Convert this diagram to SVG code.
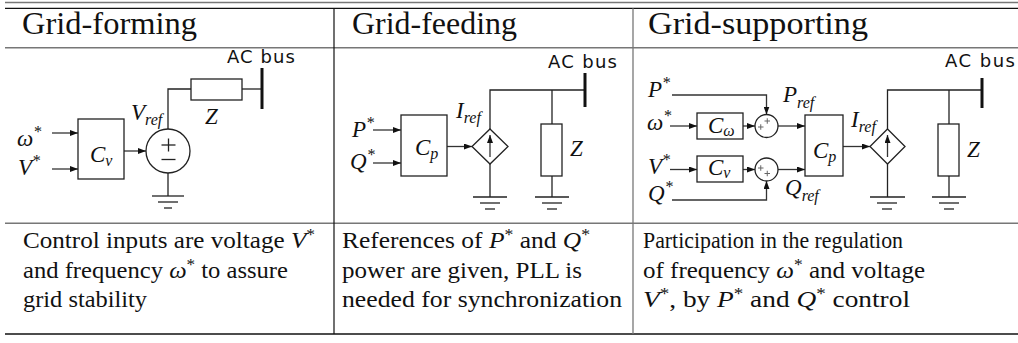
<svg xmlns="http://www.w3.org/2000/svg" width="1018" height="343" viewBox="0 0 1018 343">
<defs>
<marker id="ah" markerUnits="userSpaceOnUse" markerWidth="8" markerHeight="6" refX="8" refY="3" orient="auto"><path d="M0,0 L8,3 L0,6 z" fill="#111"/></marker>
<style>
.bg{fill:#fff}
.rg{stroke:#777;stroke-width:1.6;fill:none}
.rb{stroke:#111;stroke-width:1.2;fill:none}
.w{stroke:#222;stroke-width:1.3;fill:none}
.bx{stroke:#222;stroke-width:1.3;fill:#fff}
.bus{stroke:#111;stroke-width:3}
.ar{stroke:#333;stroke-width:1.3;fill:none;marker-end:url(#ah)}
.hd{font-family:'Liberation Serif','Times New Roman',serif;font-size:31px;fill:#111}
.bd{font-family:'Liberation Serif','Times New Roman',serif;font-size:23px;fill:#111}
.it{font-style:italic}
.ac{font-family:"DejaVu Sans","Liberation Sans",sans-serif;font-size:18px;fill:#111}
.m{font-family:'Liberation Serif','Times New Roman',serif;font-style:italic;font-size:23px;fill:#111}
.s{font-size:16px}
.pl{stroke:#666;stroke-width:1}
</style>
</defs>
<rect class="bg" x="0" y="0" width="1018" height="343"/>
<g id="table">
<line class="rg" x1="5" y1="2.5" x2="1018" y2="2.5"/>
<line class="rb" x1="5" y1="8.3" x2="1018" y2="8.3"/>
<line class="rg" x1="5" y1="47.7" x2="1018" y2="47.7"/>
<line class="rg" x1="5" y1="223.3" x2="1018" y2="223.3"/>
<line class="rb" x1="5" y1="334" x2="1018" y2="334" style="stroke-width:1.5"/>
<line class="rb" x1="334" y1="8.3" x2="334" y2="334"/>
<line class="rg" x1="633" y1="8.3" x2="633" y2="334" style="stroke-width:1.3"/>
<text class="hd" x="22" y="34" textLength="175" lengthAdjust="spacingAndGlyphs">Grid-forming</text>
<text class="hd" x="352" y="34" textLength="165" lengthAdjust="spacingAndGlyphs">Grid-feeding</text>
<text class="hd" x="648" y="34" textLength="220" lengthAdjust="spacingAndGlyphs">Grid-supporting</text>
<text class="bd" x="23" y="248" textLength="292" lengthAdjust="spacingAndGlyphs">Control inputs are voltage <tspan class="it">V</tspan><tspan class="s" dy="-8">*</tspan></text>
<text class="bd" x="23" y="278" textLength="265" lengthAdjust="spacingAndGlyphs">and frequency <tspan class="it">ω</tspan><tspan class="s" dy="-8">*</tspan><tspan dy="8"> to assure</tspan></text>
<text class="bd" x="23" y="307" textLength="124" lengthAdjust="spacingAndGlyphs">grid stability</text>
<text class="bd" x="342" y="248" textLength="248" lengthAdjust="spacingAndGlyphs">References of <tspan class="it">P</tspan><tspan class="s" dy="-8">*</tspan><tspan dy="8"> and </tspan><tspan class="it">Q</tspan><tspan class="s" dy="-8">*</tspan></text>
<text class="bd" x="342" y="278" textLength="240" lengthAdjust="spacingAndGlyphs">power are given, PLL is</text>
<text class="bd" x="342" y="307" textLength="280" lengthAdjust="spacingAndGlyphs">needed for synchronization</text>
<text class="bd" x="643" y="248" textLength="260" lengthAdjust="spacingAndGlyphs">Participation in the regulation</text>
<text class="bd" x="643" y="278" textLength="282" lengthAdjust="spacingAndGlyphs">of frequency <tspan class="it">ω</tspan><tspan class="s" dy="-8">*</tspan><tspan dy="8"> and voltage</tspan></text>
<text class="bd" x="643" y="307" textLength="267" lengthAdjust="spacingAndGlyphs"><tspan class="it">V</tspan><tspan class="s" dy="-8">*</tspan><tspan dy="8">, by </tspan><tspan class="it">P</tspan><tspan class="s" dy="-8">*</tspan><tspan dy="8"> and </tspan><tspan class="it">Q</tspan><tspan class="s" dy="-8">*</tspan><tspan dy="8"> control</tspan></text>
</g>
<g id="connectors">
<polyline class="w" points="168,129 168,89 191,89"/>
<line class="w" x1="242" y1="89" x2="262" y2="89"/>
<line class="w" x1="168" y1="173" x2="168" y2="196"/>
<line class="ar" x1="52" y1="133" x2="78" y2="133"/>
<line class="ar" x1="52" y1="169" x2="78" y2="169"/>
<line class="ar" x1="124" y1="151" x2="146" y2="151"/>
<polyline class="w" points="490,129 490,90 585,90"/>
<line class="w" x1="552" y1="90" x2="552" y2="124"/>
<line class="w" x1="490" y1="164" x2="490" y2="197"/>
<line class="w" x1="552" y1="176" x2="552" y2="197"/>
<line class="ar" x1="373" y1="130" x2="401" y2="130"/>
<line class="ar" x1="373" y1="163" x2="401" y2="163"/>
<line class="ar" x1="447" y1="146.5" x2="472" y2="146.5"/>
<polyline class="w" points="887.5,129 887.5,90 982,90"/>
<line class="w" x1="949" y1="90" x2="949" y2="124"/>
<line class="w" x1="887.5" y1="164" x2="887.5" y2="197"/>
<line class="w" x1="949" y1="176" x2="949" y2="197"/>
<line class="ar" x1="670" y1="126" x2="697" y2="126"/>
<line class="ar" x1="743" y1="126" x2="755" y2="126"/>
<line class="ar" x1="778" y1="126" x2="805" y2="126"/>
<line class="ar" x1="670" y1="169.5" x2="697" y2="169.5"/>
<line class="ar" x1="743" y1="169.5" x2="755" y2="169.5"/>
<line class="ar" x1="778" y1="169.5" x2="805" y2="169.5"/>
<polyline class="ar" points="672,95 766.5,95 766.5,114.5"/>
<polyline class="ar" points="672,200 766.5,200 766.5,181"/>
<line class="ar" x1="843" y1="146.5" x2="870" y2="146.5"/>
</g>
<g id="gf-bus"><line class="bus" x1="262" y1="68" x2="262" y2="109"/><text class="ac" x="227" y="63" textLength="68">AC bus</text></g>
<g id="gf-z"><rect class="bx" x="191" y="79" width="51" height="21"/><text class="m" x="205" y="124">Z</text></g>
<g id="gf-source"><circle class="bx" cx="168" cy="151" r="22"/>
<line class="w" x1="161.5" y1="145" x2="175.5" y2="145"/><line class="w" x1="168.5" y1="138.5" x2="168.5" y2="151.5"/><line class="w" x1="161.5" y1="159.5" x2="175.5" y2="159.5"/>
<text class="m" x="131" y="120">V<tspan class="s" dy="5">ref</tspan></text></g>
<g id="gf-ground"><line class="w" x1="152" y1="196" x2="184" y2="196"/><line class="w" x1="158" y1="202" x2="178" y2="202"/><line class="w" x1="164" y1="208" x2="172" y2="208"/></g>
<g id="gf-cv"><rect class="bx" x="78" y="119" width="46" height="60"/><text class="m" x="90" y="162">C<tspan class="s" dy="4">v</tspan></text></g>
<g id="gf-inputs"><text class="m" x="17" y="146">ω<tspan class="s" dy="-9">*</tspan></text><text class="m" x="18" y="175">V<tspan class="s" dy="-9">*</tspan></text></g>

<g id="gd-bus"><line class="bus" x1="585" y1="73" x2="585" y2="107"/><text class="ac" x="548" y="68" textLength="69">AC bus</text></g>
<g id="gd-source"><polygon class="bx" points="490,129 508,146.5 490,164 472,146.5"/><line class="ar" x1="490" y1="157" x2="490" y2="135"/>
<text class="m" x="456" y="118">I<tspan class="s" dy="5">ref</tspan></text></g>
<g id="gd-z"><rect class="bx" x="541" y="124" width="21" height="52"/><text class="m" x="570" y="156">Z</text></g>
<g id="gd-ground1"><line class="w" x1="473" y1="197" x2="507" y2="197"/><line class="w" x1="480" y1="203" x2="500" y2="203"/><line class="w" x1="485" y1="209" x2="495" y2="209"/></g>
<g id="gd-ground2"><line class="w" x1="535" y1="197" x2="569" y2="197"/><line class="w" x1="542" y1="203" x2="562" y2="203"/><line class="w" x1="547" y1="209" x2="557" y2="209"/></g>
<g id="gd-cp"><rect class="bx" x="401" y="115" width="46" height="61"/><text class="m" x="415" y="155">C<tspan class="s" dy="4">p</tspan></text></g>
<g id="gd-inputs"><text class="m" x="352" y="137">P<tspan class="s" dy="-9">*</tspan></text><text class="m" x="350" y="169">Q<tspan class="s" dy="-9">*</tspan></text></g>

<g id="gs-bus"><line class="bus" x1="982" y1="78" x2="982" y2="108"/><text class="ac" x="945" y="67" textLength="70">AC bus</text></g>
<g id="gs-source"><polygon class="bx" points="887.5,129 905,146.5 887.5,164 870,146.5"/><line class="ar" x1="887.5" y1="157" x2="887.5" y2="135"/>
<text class="m" x="851" y="127">I<tspan class="s" dy="5">ref</tspan></text></g>
<g id="gs-z"><rect class="bx" x="938" y="124" width="21" height="52"/><text class="m" x="967" y="157">Z</text></g>
<g id="gs-ground1"><line class="w" x1="870" y1="197" x2="905" y2="197"/><line class="w" x1="877" y1="203" x2="897" y2="203"/><line class="w" x1="882" y1="209" x2="892" y2="209"/></g>
<g id="gs-ground2"><line class="w" x1="932" y1="197" x2="966" y2="197"/><line class="w" x1="939" y1="203" x2="959" y2="203"/><line class="w" x1="944" y1="209" x2="954" y2="209"/></g>
<g id="gs-cp"><rect class="bx" x="805" y="115" width="38" height="61"/><text class="m" x="813" y="158">C<tspan class="s" dy="4">p</tspan></text></g>
<g id="gs-cw"><rect class="bx" x="697" y="113" width="46" height="26"/><text class="m" x="708" y="133">C<tspan class="s" dy="3">ω</tspan></text></g>
<g id="gs-cv"><rect class="bx" x="697" y="156" width="46" height="26"/><text class="m" x="708" y="175">C<tspan class="s" dy="3">v</tspan></text></g>
<g id="gs-sum1"><circle class="bx" cx="766.5" cy="126" r="11.5"/>
<line class="pl" x1="758" y1="127" x2="763.5" y2="127"/><line class="pl" x1="760.75" y1="124.25" x2="760.75" y2="129.75"/>
<line class="pl" x1="764.5" y1="121" x2="770" y2="121"/><line class="pl" x1="767.25" y1="118.25" x2="767.25" y2="123.75"/></g>
<g id="gs-sum2"><circle class="bx" cx="766.5" cy="169.5" r="11.5"/>
<line class="pl" x1="758" y1="168" x2="763.5" y2="168"/><line class="pl" x1="760.75" y1="165.25" x2="760.75" y2="170.75"/>
<line class="pl" x1="764.5" y1="173.5" x2="770" y2="173.5"/><line class="pl" x1="767.25" y1="170.75" x2="767.25" y2="176.25"/></g>
<g id="gs-inputs"><text class="m" x="648" y="97">P<tspan class="s" dy="-9">*</tspan></text><text class="m" x="647" y="130">ω<tspan class="s" dy="-9">*</tspan></text><text class="m" x="648" y="174">V<tspan class="s" dy="-9">*</tspan></text><text class="m" x="648" y="201">Q<tspan class="s" dy="-9">*</tspan></text></g>
<g id="gs-labels"><text class="m" x="783" y="102">P<tspan class="s" dy="6">ref</tspan></text><text class="m" x="785" y="195">Q<tspan class="s" dy="6">ref</tspan></text></g>
</svg>
